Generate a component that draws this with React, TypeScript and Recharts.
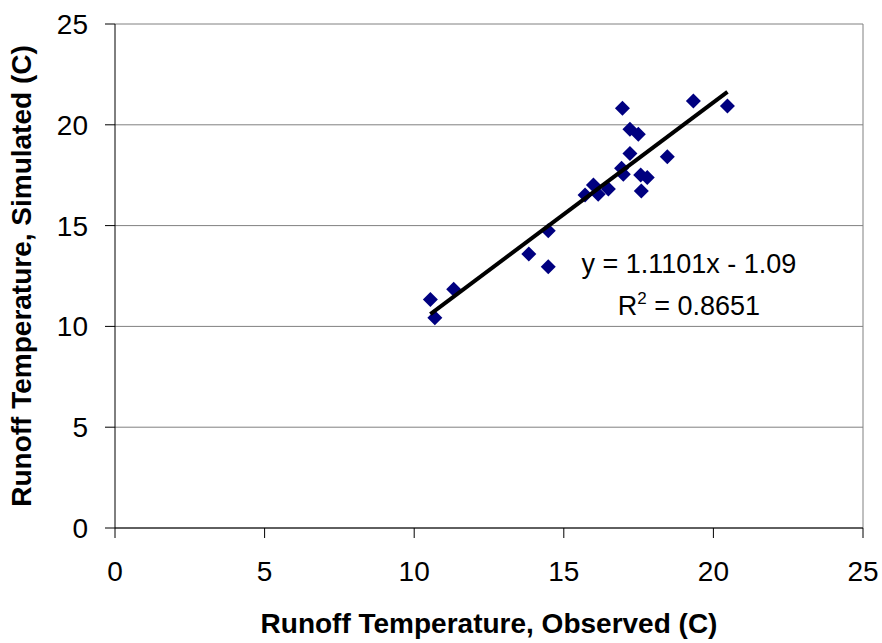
import React from 'react';
import {
  ScatterChart,
  Scatter,
  XAxis,
  YAxis,
  CartesianGrid,
  ReferenceLine,
  ReferenceDot,
} from 'recharts';

// observed vs simulated runoff temperatures (C)
const observed = [10.54, 10.69, 11.32, 13.83, 14.48, 14.48, 15.71, 15.99, 16.15, 16.49, 16.93, 16.99, 16.96, 17.21, 17.49, 17.21, 17.57, 17.79, 17.59, 18.46, 19.33, 20.47];
const simulated = [11.34, 10.43, 11.84, 13.59, 14.75, 12.96, 16.52, 17.01, 16.55, 16.82, 17.84, 17.55, 20.82, 19.78, 19.53, 18.58, 17.51, 17.38, 16.72, 18.42, 21.18, 20.93];
const axisTicks = [0, 5, 10, 15, 20, 25];

const slope = 1.1101;
const intercept = -1.09;
const rSquared = '0.8651';

const points = observed.map((x, i) => ({ x, y: simulated[i] }));
const xMin = Math.min(...observed);
const xMax = Math.max(...observed);
const trend = [xMin, xMax].map((x) => ({ x, y: slope * x + intercept }));

const FONT = '"Liberation Sans", Arial, sans-serif';

const Diamond = (props: any) => {
  const { cx, cy } = props;
  if (cx == null || cy == null) return null;
  const r = 7.5;
  return (
    <polygon
      points={`${cx},${cy - r} ${cx + r},${cy} ${cx},${cy + r} ${cx - r},${cy}`}
      fill="#000080"
    />
  );
};

const EquationLabel = (props: any) => {
  const { viewBox } = props;
  const x = viewBox.x + viewBox.width / 2;
  const y = viewBox.y + viewBox.height / 2;
  return (
    <g fontFamily={FONT} fontSize={27} fill="#000">
      <text x={x} y={y} textAnchor="middle">
        y = {slope}x - {Math.abs(intercept)}
      </text>
      <text x={x} y={y + 42} textAnchor="middle">
        R<tspan dy={-11} fontSize={17}>2</tspan>
        <tspan dy={11}> = {rSquared}</tspan>
      </text>
    </g>
  );
};

export default function App() {
  return (
    <div style={{ position: 'absolute', left: 0, top: 0, background: '#fff' }}>
      <ScatterChart
        width={882}
        height={643}
        margin={{ top: 24, right: 19, bottom: 0, left: 0 }}
        style={{ fontFamily: FONT }}
      >
        <CartesianGrid vertical={false} stroke="#808080" strokeWidth={1} />
        <XAxis
          type="number"
          dataKey="x"
          domain={[0, 25]}
          ticks={axisTicks}
          height={115}
          tickSize={10}
          tickMargin={23}
          axisLine={{ stroke: '#000' }}
          tickLine={{ stroke: '#000' }}
          tick={{ fontSize: 28, fill: '#000' }}
          label={{
            value: 'Runoff Temperature, Observed (C)',
            position: 'insideBottom',
            offset: 10,
            style: { fontSize: 28, fontWeight: 'bold', fill: '#000' },
          }}
        />
        <YAxis
          type="number"
          dataKey="y"
          domain={[0, 25]}
          ticks={axisTicks}
          width={115}
          tickSize={10}
          tickMargin={17}
          axisLine={{ stroke: '#000' }}
          tickLine={{ stroke: '#000' }}
          tick={{ fontSize: 28, fill: '#000' }}
          label={{
            value: 'Runoff Temperature, Simulated (C)',
            angle: -90,
            position: 'insideLeft',
            offset: 21,
            style: { fontSize: 28, fontWeight: 'bold', fill: '#000', textAnchor: 'middle' },
          }}
        />
        <ReferenceLine x={25} stroke="#808080" />
        <Scatter data={points} shape={<Diamond />} isAnimationActive={false} />
        <Scatter
          data={trend}
          line={{ stroke: '#000', strokeWidth: 4 }}
          shape={() => <g />}
          isAnimationActive={false}
        />
        <ReferenceDot
          x={19.18}
          y={12.65}
          r={1}
          fill="none"
          stroke="none"
          label={<EquationLabel />}
        />
      </ScatterChart>
    </div>
  );
}
